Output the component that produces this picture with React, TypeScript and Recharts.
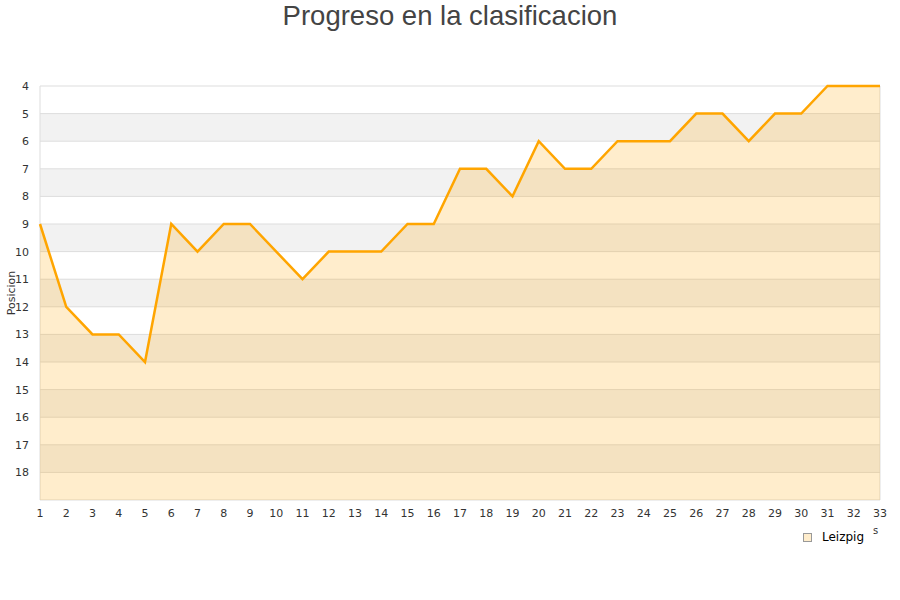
import { AreaChart, Area, XAxis, YAxis, CartesianGrid } from "recharts";

const jornadas = [
  1, 2, 3, 4, 5, 6, 7, 8, 9, 10, 11, 12, 13, 14, 15, 16, 17, 18, 19, 20, 21,
  22, 23, 24, 25, 26, 27, 28, 29, 30, 31, 32, 33,
];
const posiciones = [
  9, 12, 13, 13, 14, 9, 10, 9, 9, 10, 11, 10, 10, 10, 9, 9, 7, 7, 8, 6, 7, 7,
  6, 6, 6, 5, 5, 6, 5, 5, 4, 4, 4,
];
const yTicks = [4, 5, 6, 7, 8, 9, 10, 11, 12, 13, 14, 15, 16, 17, 18, 19];

const data = jornadas.map((j, i) => ({ j, pos: posiciones[i] }));

const tickFont = {
  fontFamily: "DejaVu Sans, sans-serif",
  fontSize: 11,
  fill: "#333",
};

export default function App() {
  return (
    <div
      style={{
        position: "absolute",
        left: 0,
        top: 0,
        width: 900,
        height: 600,
        background: "#fff",
      }}
    >
      <div
        style={{
          position: "absolute",
          top: 0,
          width: 900,
          textAlign: "center",
          fontFamily: "Liberation Sans, Arial, sans-serif",
          fontSize: 27.5,
          color: "#444",
          lineHeight: "32px",
        }}
      >
        Progreso en la clasificacion
      </div>
      <AreaChart
        width={900}
        height={600}
        data={data}
        margin={{ top: 86, right: 20, bottom: 70, left: 0 }}
      >
        <CartesianGrid
          stroke="#dddddd"
          horizontalFill={["#ffffff", "#f2f2f2"]}
          verticalPoints={[40, 880]}
        />
        <XAxis
          dataKey="j"
          type="number"
          domain={[1, 33]}
          ticks={jornadas}
          interval={0}
          axisLine={false}
          tickLine={false}
          tick={tickFont}
          tickMargin={3}
          height={30}
        />
        <YAxis
          type="number"
          domain={[4, 19]}
          reversed
          ticks={yTicks}
          interval={0}
          tickFormatter={(v) => (v === 19 ? "" : String(v))}
          axisLine={false}
          tickLine={false}
          tick={tickFont}
          tickMargin={5}
          width={40}
          label={{
            value: "Posicion",
            angle: -90,
            position: "insideLeft",
            dx: 6,
            style: { ...tickFont, textAnchor: "middle" },
          }}
        />
        <Area
          type="linear"
          dataKey="pos"
          baseValue={19}
          stroke="#ffa500"
          strokeWidth={2.5}
          fill="#ffa500"
          fillOpacity={0.2}
          dot={false}
          activeDot={false}
          isAnimationActive={false}
        />
      </AreaChart>
      <div
        style={{
          position: "absolute",
          left: 803,
          top: 530,
          display: "flex",
          alignItems: "center",
          fontFamily: "DejaVu Sans, sans-serif",
          fontSize: 12,
          color: "#000",
        }}
      >
        <span
          style={{
            display: "inline-block",
            width: 7,
            height: 7,
            background: "#ffedcc",
            border: "1px solid #999",
            marginRight: 10,
          }}
        />
        Leizpig
      </div>
      <div
        style={{
          position: "absolute",
          left: 873,
          top: 525,
          fontFamily: "DejaVu Sans, sans-serif",
          fontSize: 10,
          color: "#333",
        }}
      >
        s
      </div>
    </div>
  );
}
